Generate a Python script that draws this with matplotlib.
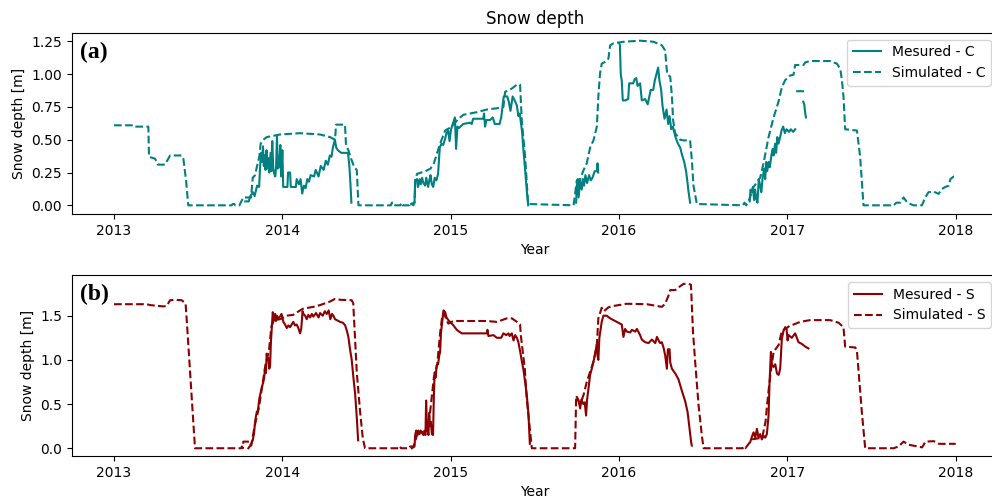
#!/usr/bin/env python3
"""Snow depth: measured vs simulated at sites C and S (2013-2018)."""

import matplotlib

matplotlib.use("Agg")
import matplotlib.pyplot as plt
import numpy as np
from matplotlib.ticker import MultipleLocator, StrMethodFormatter

NAN = np.nan

# --- site C, measured (NaN breaks the line where the sensor has no data) ---
C_MEAS_YEAR = [
    2013.780, 2013.800, 2013.810, 2013.825, 2013.835, 2013.850, 2013.862, 2013.868,
    2013.874, 2013.879, 2013.885, 2013.890, 2013.895, 2013.900, 2013.906, 2013.911,
    2013.917, 2013.922, 2013.930, 2013.935, 2013.940, 2013.946, 2013.952, 2013.958,
    2013.963, 2013.968, 2013.973, 2013.980, 2013.988, 2013.994, 2014.000, 2014.005,
    2014.030, 2014.034, 2014.046, 2014.050, 2014.080, 2014.085, 2014.098, 2014.108,
    2014.118, 2014.128, 2014.138, 2014.148, 2014.158, 2014.168, 2014.188, 2014.198,
    2014.215, 2014.228, 2014.245, 2014.258, 2014.270, 2014.282, 2014.292, 2014.300,
    2014.312, 2014.320, 2014.330, 2014.350, 2014.390, 2014.398, 2014.405, 2014.410,
    2014.600,
    2014.765, 2014.785, 2014.789, 2014.800, 2014.806, 2014.815, 2014.822, 2014.830,
    2014.838, 2014.848, 2014.855, 2014.866, 2014.873, 2014.880, 2014.888, 2014.896,
    2014.905, 2014.915, 2014.925, 2014.935, 2014.945, 2014.955, 2014.965, 2014.975,
    2014.985, 2014.993, 2015.002, 2015.015, 2015.025, 2015.032, 2015.040, 2015.050,
    2015.074, 2015.115, 2015.125, 2015.133, 2015.193, 2015.198, 2015.204, 2015.212,
    2015.234, 2015.250, 2015.262, 2015.290, 2015.300, 2015.315, 2015.336, 2015.345,
    2015.355, 2015.368, 2015.380, 2015.393, 2015.402, 2015.410, 2015.424, 2015.432,
    2015.442, 2015.452, 2015.460,
    2015.600,
    2015.745, 2015.749, 2015.755, 2015.760, 2015.768, 2015.778, 2015.785, 2015.792,
    2015.800, 2015.810, 2015.822, 2015.832, 2015.842, 2015.855, 2015.868, 2015.872,
    2015.876,
    2015.940,
    2016.001, 2016.005, 2016.010, 2016.016, 2016.022, 2016.036, 2016.054, 2016.060,
    2016.084, 2016.092, 2016.102, 2016.110, 2016.125, 2016.135, 2016.155, 2016.170,
    2016.178, 2016.188, 2016.203, 2016.212, 2016.226, 2016.232, 2016.240, 2016.250,
    2016.258, 2016.270, 2016.282, 2016.292, 2016.300, 2016.310, 2016.320, 2016.335,
    2016.350, 2016.363, 2016.375, 2016.387, 2016.398, 2016.405, 2016.412, 2016.422,
    2016.600,
    2016.776, 2016.781, 2016.788, 2016.795, 2016.802, 2016.808, 2016.815, 2016.822,
    2016.830, 2016.838, 2016.845, 2016.852, 2016.862, 2016.868, 2016.874, 2016.880,
    2016.888, 2016.895, 2016.905, 2016.912, 2016.918, 2016.927, 2016.933, 2016.940,
    2016.947, 2016.957, 2016.965, 2016.975, 2016.985, 2016.995, 2017.010, 2017.020,
    2017.034, 2017.046,
    2017.052,
    2017.058, 2017.092,
    2017.093,
    2017.094, 2017.100, 2017.104, 2017.110,
]
C_MEAS_DEPTH = [
    0.03, 0.03, 0.07, 0.10, 0.07, 0.15, 0.14, 0.30,
    0.40, 0.33, 0.45, 0.30, 0.38, 0.27, 0.42, 0.28,
    0.36, 0.25, 0.40, 0.26, 0.49, 0.28, 0.24, 0.22,
    0.30, 0.53, 0.28, 0.29, 0.46, 0.22, 0.42, 0.14,
    0.14, 0.25, 0.25, 0.14, 0.14, 0.20, 0.16, 0.20,
    0.09, 0.15, 0.13, 0.20, 0.18, 0.23, 0.22, 0.27,
    0.22, 0.30, 0.27, 0.34, 0.31, 0.38, 0.37, 0.44,
    0.50, 0.44, 0.42, 0.40, 0.40, 0.30, 0.15, 0.02,
    NAN,
    0.01, 0.02, 0.19, 0.20, 0.14, 0.20, 0.16, 0.21,
    0.17, 0.15, 0.21, 0.14, 0.19, 0.23, 0.16, 0.14,
    0.21, 0.19, 0.24, 0.44, 0.47, 0.46, 0.50, 0.55,
    0.57, 0.49, 0.58, 0.63, 0.67, 0.43, 0.60, 0.59,
    0.62, 0.63, 0.62, 0.66, 0.66, 0.70, 0.60, 0.65,
    0.65, 0.67, 0.62, 0.62, 0.67, 0.83, 0.83, 0.79,
    0.72, 0.83, 0.80, 0.76, 0.68, 0.70, 0.56, 0.42,
    0.27, 0.11, 0.00,
    NAN,
    0.02, 0.15, 0.20, 0.06, 0.19, 0.12, 0.20, 0.15,
    0.23, 0.17, 0.23, 0.19, 0.21, 0.26, 0.26, 0.32,
    0.25,
    NAN,
    1.235, 1.22, 1.00, 0.95, 0.80, 0.80, 0.81, 0.93,
    0.93, 0.96, 0.97, 0.91, 0.93, 0.80, 0.81, 0.77,
    0.82, 0.88, 0.88, 0.95, 1.02, 1.05, 0.95, 0.88,
    0.76, 0.66, 0.73, 0.62, 0.68, 0.58, 0.60, 0.52,
    0.47, 0.44, 0.38, 0.33, 0.26, 0.19, 0.11, 0.02,
    NAN,
    0.03, 0.12, 0.10, 0.14, 0.04, 0.12, 0.05, 0.02,
    0.20, 0.15, 0.10, 0.20, 0.28, 0.20, 0.33, 0.26,
    0.33, 0.29, 0.38, 0.43, 0.38, 0.47, 0.40, 0.52,
    0.47, 0.52, 0.57, 0.60, 0.55, 0.58, 0.56, 0.58,
    0.56, 0.58,
    NAN,
    0.87, 0.87,
    NAN,
    0.79, 0.77, 0.72, 0.67,
]

# --- site C, simulated ---
C_SIM_YEAR = [
    2013.000, 2013.115, 2013.120, 2013.204, 2013.208, 2013.244, 2013.261, 2013.303,
    2013.333, 2013.402, 2013.412, 2013.428, 2013.441, 2013.699, 2013.705, 2013.715,
    2013.720, 2013.745, 2013.768, 2013.814, 2013.824, 2013.838, 2013.848, 2013.863,
    2013.871, 2013.887, 2013.907, 2013.986, 2014.105, 2014.224, 2014.283, 2014.313,
    2014.319, 2014.372, 2014.378, 2014.392, 2014.410, 2014.427, 2014.442, 2014.452,
    2014.645, 2014.650, 2014.665, 2014.670, 2014.700, 2014.709, 2014.715, 2014.755,
    2014.759, 2014.778, 2014.785, 2014.790, 2014.800, 2014.850, 2014.880, 2014.900,
    2014.937, 2014.967, 2015.006, 2015.046, 2015.075, 2015.155, 2015.214, 2015.274,
    2015.313, 2015.323, 2015.363, 2015.393, 2015.412, 2015.417, 2015.422, 2015.442,
    2015.460, 2015.730, 2015.739, 2015.749, 2015.769, 2015.788, 2015.808, 2015.828,
    2015.848, 2015.868, 2015.877, 2015.887, 2015.897, 2015.927, 2015.937, 2015.947,
    2015.967, 2016.026, 2016.125, 2016.204, 2016.254, 2016.274, 2016.280, 2016.286,
    2016.304, 2016.314, 2016.321, 2016.333, 2016.363, 2016.383, 2016.422, 2016.432,
    2016.442, 2016.462, 2016.736, 2016.745, 2016.755, 2016.775, 2016.799, 2016.838,
    2016.858, 2016.888, 2016.918, 2016.947, 2016.967, 2016.987, 2017.017, 2017.036,
    2017.046, 2017.096, 2017.106, 2017.135, 2017.254, 2017.294, 2017.314, 2017.324,
    2017.333, 2017.343, 2017.413, 2017.432, 2017.442, 2017.452, 2017.631, 2017.647,
    2017.670, 2017.690, 2017.710, 2017.730, 2017.749, 2017.799, 2017.819, 2017.838,
    2017.868, 2017.898, 2017.918, 2017.938, 2017.958, 2017.968, 2017.988, 2018.000,
]
C_SIM_DEPTH = [
    0.61, 0.61, 0.60, 0.60, 0.37, 0.355, 0.31, 0.31,
    0.38, 0.38, 0.355, 0.19, 0.00, 0.00, 0.01, 0.01,
    0.00, 0.00, 0.06, 0.06, 0.21, 0.23, 0.29, 0.37,
    0.47, 0.50, 0.52, 0.54, 0.55, 0.54, 0.52, 0.50,
    0.615, 0.615, 0.46, 0.42, 0.35, 0.29, 0.27, 0.00,
    0.00, 0.02, 0.02, 0.00, 0.00, 0.02, 0.00, 0.00,
    0.02, 0.00, 0.02, 0.20, 0.24, 0.26, 0.28, 0.32,
    0.47, 0.57, 0.60, 0.66, 0.69, 0.71, 0.73, 0.74,
    0.75, 0.865, 0.89, 0.92, 0.92, 0.79, 0.65, 0.37,
    0.01, 0.00, 0.087, 0.19, 0.20, 0.265, 0.32, 0.44,
    0.495, 0.60, 0.83, 1.005, 1.08, 1.10, 1.12, 1.22,
    1.235, 1.247, 1.255, 1.247, 1.22, 1.18, 1.08, 1.00,
    0.98, 0.83, 0.65, 0.55, 0.50, 0.495, 0.495, 0.35,
    0.15, 0.01, 0.00, 0.02, 0.00, 0.05, 0.14, 0.21,
    0.32, 0.52, 0.67, 0.79, 0.90, 0.955, 0.99, 0.995,
    1.07, 1.07, 1.09, 1.10, 1.10, 1.08, 1.04, 0.95,
    0.83, 0.58, 0.57, 0.37, 0.19, 0.00, 0.00, 0.02,
    0.02, 0.06, 0.025, 0.01, 0.00, 0.00, 0.06, 0.10,
    0.105, 0.087, 0.125, 0.14, 0.15, 0.20, 0.22, 0.22,
]

# --- site S, measured ---
S_MEAS_YEAR = [
    2013.798, 2013.810, 2013.824, 2013.832, 2013.838, 2013.842, 2013.848, 2013.855,
    2013.863, 2013.870, 2013.878, 2013.887, 2013.892, 2013.897, 2013.902, 2013.907,
    2013.912, 2013.917, 2013.922, 2013.927, 2013.932, 2013.937, 2013.943, 2013.950,
    2013.957, 2013.962, 2013.967, 2013.975, 2013.986, 2013.995, 2014.006, 2014.016,
    2014.026, 2014.036, 2014.046, 2014.055, 2014.065, 2014.075, 2014.085, 2014.095,
    2014.105, 2014.112, 2014.120, 2014.125, 2014.135, 2014.145, 2014.154, 2014.165,
    2014.175, 2014.184, 2014.200, 2014.215, 2014.224, 2014.240, 2014.252, 2014.264,
    2014.275, 2014.285, 2014.295, 2014.303, 2014.313, 2014.323, 2014.343, 2014.360,
    2014.373, 2014.383, 2014.392, 2014.402, 2014.412, 2014.422, 2014.432, 2014.442,
    2014.450,
    2014.600,
    2014.769, 2014.785, 2014.789, 2014.795, 2014.800, 2014.808, 2014.815, 2014.822,
    2014.830, 2014.838, 2014.845, 2014.850, 2014.854, 2014.858, 2014.862, 2014.868,
    2014.872, 2014.876, 2014.882, 2014.888, 2014.895, 2014.900, 2014.905, 2014.910,
    2014.917, 2014.925, 2014.932, 2014.937, 2014.942, 2014.947, 2014.957, 2014.967,
    2014.975, 2014.986, 2014.996, 2015.016, 2015.036, 2015.050, 2015.066, 2015.100,
    2015.135, 2015.180, 2015.215, 2015.218, 2015.224, 2015.254, 2015.274, 2015.300,
    2015.313, 2015.330, 2015.343, 2015.350, 2015.363, 2015.373, 2015.383, 2015.393,
    2015.402, 2015.412, 2015.422, 2015.432, 2015.442, 2015.452, 2015.462, 2015.470,
    2015.600,
    2015.749, 2015.758, 2015.769, 2015.776, 2015.788, 2015.796, 2015.804, 2015.810,
    2015.818, 2015.828, 2015.838, 2015.848, 2015.858, 2015.868, 2015.872, 2015.877,
    2015.883, 2015.897, 2015.907, 2015.927, 2015.947, 2015.967, 2015.996, 2016.016,
    2016.026, 2016.036, 2016.046, 2016.066, 2016.076, 2016.096, 2016.106, 2016.125,
    2016.135, 2016.155, 2016.175, 2016.195, 2016.215, 2016.225, 2016.235, 2016.244,
    2016.254, 2016.264, 2016.274, 2016.284, 2016.290, 2016.300, 2016.304, 2016.314,
    2016.334, 2016.353, 2016.373, 2016.393, 2016.407, 2016.419, 2016.428, 2016.432,
    2016.600,
    2016.779, 2016.789, 2016.799, 2016.809, 2016.819, 2016.828, 2016.838, 2016.848,
    2016.858, 2016.868, 2016.878, 2016.888, 2016.894, 2016.902, 2016.908, 2016.918,
    2016.928, 2016.938, 2016.948, 2016.957, 2016.967, 2016.977, 2016.987, 2016.995,
    2017.001, 2017.007, 2017.026, 2017.046, 2017.056, 2017.066, 2017.086, 2017.106,
    2017.125,
]
S_MEAS_DEPTH = [
    0.00, 0.03, 0.09, 0.17, 0.30, 0.35, 0.41, 0.43,
    0.56, 0.62, 0.69, 0.75, 0.80, 0.90, 0.85, 1.07,
    1.00, 1.02, 0.90, 0.93, 1.20, 1.35, 1.54, 1.45,
    1.52, 1.44, 1.50, 1.47, 1.49, 1.52, 1.43, 1.40,
    1.36, 1.39, 1.37, 1.40, 1.43, 1.39, 1.40, 1.36,
    1.30, 1.35, 1.55, 1.52, 1.50, 1.46, 1.51, 1.48,
    1.52, 1.49, 1.53, 1.48, 1.53, 1.50, 1.55, 1.52,
    1.56, 1.46, 1.52, 1.50, 1.46, 1.45, 1.43, 1.42,
    1.39, 1.33, 1.26, 1.12, 1.00, 0.80, 0.62, 0.35,
    0.09,
    NAN,
    0.00, 0.02, 0.15, 0.20, 0.17, 0.20, 0.16, 0.20,
    0.17, 0.15, 0.18, 0.15, 0.54, 0.30, 0.20, 0.15,
    0.40, 0.25, 0.30, 0.16, 0.15, 0.60, 0.86, 0.80,
    0.94, 0.95, 1.05, 1.09, 1.30, 1.39, 1.56, 1.54,
    1.48, 1.45, 1.43, 1.39, 1.34, 1.32, 1.30, 1.30,
    1.30, 1.30, 1.30, 1.34, 1.27, 1.28, 1.25, 1.25,
    1.30, 1.28, 1.30, 1.27, 1.30, 1.22, 1.28, 1.25,
    1.20, 1.10, 0.99, 0.89, 0.75, 0.60, 0.38, 0.05,
    NAN,
    0.58, 0.55, 0.45, 0.55, 0.50, 0.52, 0.37, 0.55,
    0.67, 0.83, 0.90, 0.98, 1.07, 1.18, 1.05, 1.00,
    1.25, 1.43, 1.50, 1.50, 1.47, 1.45, 1.42, 1.40,
    1.26, 1.35, 1.32, 1.31, 1.34, 1.32, 1.35, 1.28,
    1.23, 1.20, 1.19, 1.23, 1.19, 1.26, 1.22, 1.19,
    1.20, 1.14, 1.05, 0.90, 1.12, 1.12, 0.97, 0.90,
    0.845, 0.78, 0.65, 0.53, 0.41, 0.22, 0.07, 0.03,
    NAN,
    0.07, 0.13, 0.18, 0.12, 0.22, 0.12, 0.16, 0.10,
    0.14, 0.12, 0.16, 0.37, 0.75, 1.09, 0.95, 0.92,
    0.95, 0.845, 0.83, 0.90, 1.24, 1.33, 1.37, 1.35,
    1.22, 1.28, 1.25, 1.30, 1.25, 1.20, 1.18, 1.15,
    1.13,
]

# --- site S, simulated ---
S_SIM_YEAR = [
    2013.000, 2013.194, 2013.214, 2013.293, 2013.313, 2013.333, 2013.362, 2013.402,
    2013.425, 2013.432, 2013.481, 2013.755, 2013.760, 2013.765, 2013.768, 2013.808,
    2013.815, 2013.835, 2013.860, 2013.880, 2013.900, 2013.920, 2013.935, 2013.950,
    2013.986, 2014.026, 2014.065, 2014.105, 2014.125, 2014.184, 2014.224, 2014.283,
    2014.313, 2014.343, 2014.412, 2014.421, 2014.432, 2014.442, 2014.462, 2014.478,
    2014.491, 2014.695, 2014.699, 2014.705, 2014.755, 2014.759, 2014.780, 2014.800,
    2014.850, 2014.870, 2014.880, 2014.900, 2014.920, 2014.937, 2014.950, 2014.960,
    2014.975, 2014.986, 2015.016, 2015.214, 2015.274, 2015.334, 2015.363, 2015.393,
    2015.412, 2015.417, 2015.440, 2015.452, 2015.472, 2015.482, 2015.739, 2015.745,
    2015.770, 2015.790, 2015.808, 2015.848, 2015.868, 2015.877, 2015.897, 2015.910,
    2015.937, 2015.967, 2016.046, 2016.165, 2016.254, 2016.274, 2016.294, 2016.304,
    2016.334, 2016.353, 2016.383, 2016.413, 2016.427, 2016.439, 2016.452, 2016.472,
    2016.492, 2016.502, 2016.735, 2016.740, 2016.750, 2016.770, 2016.790, 2016.850,
    2016.870, 2016.885, 2016.900, 2016.918, 2016.948, 2016.967, 2016.987, 2017.017,
    2017.036, 2017.076, 2017.135, 2017.254, 2017.304, 2017.333, 2017.343, 2017.403,
    2017.413, 2017.423, 2017.442, 2017.462, 2017.631, 2017.660, 2017.690, 2017.720,
    2017.800, 2017.820, 2017.870, 2017.900, 2018.000,
]
S_SIM_DEPTH = [
    1.63, 1.63, 1.62, 1.605, 1.61, 1.675, 1.68, 1.675,
    1.64, 1.45, 0.00, 0.00, 0.02, 0.00, 0.075, 0.075,
    0.03, 0.25, 0.45, 0.70, 0.95, 1.10, 1.38, 1.45,
    1.46, 1.50, 1.51, 1.56, 1.58, 1.60, 1.62, 1.66,
    1.69, 1.68, 1.675, 1.64, 1.24, 0.86, 0.41, 0.11,
    0.00, 0.00, 0.02, 0.00, 0.00, 0.02, 0.02, 0.15,
    0.20, 0.30, 0.45, 0.80, 0.95, 1.30, 1.50, 1.53,
    1.45, 1.41, 1.44, 1.44, 1.43, 1.47, 1.47, 1.43,
    1.40, 1.27, 0.90, 0.55, 0.18, 0.00, 0.00, 0.58,
    0.50, 0.61, 0.75, 0.98, 1.165, 1.47, 1.59, 1.55,
    1.595, 1.61, 1.635, 1.63, 1.60, 1.635, 1.73, 1.79,
    1.79, 1.82, 1.86, 1.86, 1.85, 1.32, 0.98, 0.49,
    0.14, 0.00, 0.00, 0.02, 0.00, 0.05, 0.10, 0.12,
    0.30, 0.60, 0.85, 1.09, 1.17, 1.33, 1.35, 1.39,
    1.40, 1.43, 1.45, 1.45, 1.42, 1.37, 1.15, 1.14,
    1.10, 0.86, 0.41, 0.00, 0.00, 0.02, 0.075, 0.04,
    0.01, 0.075, 0.08, 0.05, 0.05,
]

YEAR_TICKS = [2013, 2014, 2015, 2016, 2017, 2018]

TEAL = "teal"
DARK_RED = "darkred"


def _draw_panel(ax, meas, sim, color, site, tag, ylim, ystep):
    ax.plot(meas[0], meas[1], color=color, lw=1.5, label=f"Mesured - {site}")
    ax.plot(sim[0], sim[1], color=color, lw=1.5, ls="--", label=f"Simulated - {site}")
    ax.set_xlim(2012.75, 2018.25)
    ax.set_ylim(*ylim)
    ax.set_xticks(YEAR_TICKS)
    ax.xaxis.set_major_formatter(StrMethodFormatter("{x:.0f}"))
    ax.yaxis.set_major_locator(MultipleLocator(ystep))
    ax.set_xlabel("Year")
    ax.set_ylabel("Snow depth [m]")
    ax.legend(loc="upper right")
    ax.text(0.009, 0.89, tag, transform=ax.transAxes, ha="left", va="center",
            fontsize=17, fontweight="bold", family=["Liberation Serif", "DejaVu Serif"])


def main() -> None:
    fig = plt.figure(figsize=(9.92, 5.03), dpi=100)
    ax_c = fig.add_axes([0.0725, 0.5746, 0.9334, 0.3604])
    ax_s = fig.add_axes([0.0725, 0.0934, 0.9334, 0.3598])

    _draw_panel(ax_c, (C_MEAS_YEAR, C_MEAS_DEPTH), (C_SIM_YEAR, C_SIM_DEPTH),
                TEAL, "C", "(a)", (-0.066, 1.316), 0.25)
    _draw_panel(ax_s, (S_MEAS_YEAR, S_MEAS_DEPTH), (S_SIM_YEAR, S_SIM_DEPTH),
                DARK_RED, "S", "(b)", (-0.088, 1.96), 0.5)
    ax_c.set_title("Snow depth")

    fig.savefig("out.png", dpi=100)
    plt.close(fig)


if __name__ == "__main__":
    main()
